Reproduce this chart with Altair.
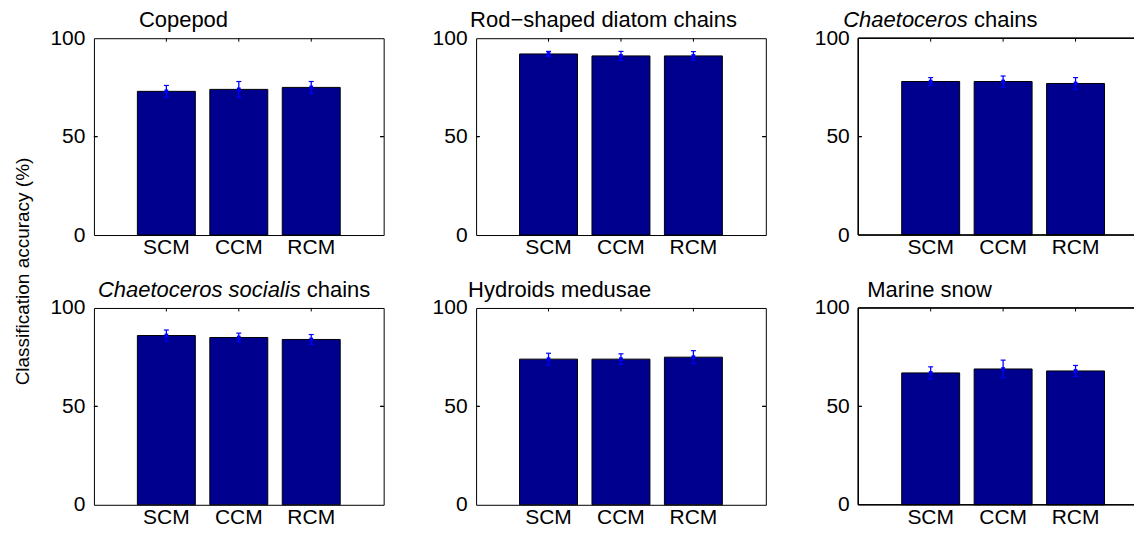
import altair as alt
import pandas as pd

# ---------------- data ----------------
categories = ["SCM", "CCM", "RCM"]
italic_parts = ["", "", "Chaetoceros", "Chaetoceros socialis", "", ""]
normal_parts = ["Copepod", "Rod\u2212shaped diatom chains", "chains", "chains",
                "Hydroids medusae", "Marine snow"]

copepod = [73, 74, 75]
copepod_err = [3.0, 4.0, 3.0]
rod = [92, 91, 91]
rod_err = [1.3, 2.3, 2.2]
chaet = [78, 78, 77]
chaet_err = [2.0, 2.8, 3.0]
socialis = [86, 85, 84]
socialis_err = [2.8, 2.2, 2.5]
hydroids = [74, 74, 75]
hydroids_err = [3.0, 2.7, 3.3]
snow = [67, 69, 68]
snow_err = [3.1, 4.5, 2.8]

y_ticks = [0, 50, 100]
y_title = "Classification accuracy (%)"

values = [copepod, rod, chaet, socialis, hydroids, snow]
errors = [copepod_err, rod_err, chaet_err, socialis_err, hydroids_err, snow_err]

# ---------------- layout / style ----------------
FONT = "Liberation Sans"
W, H = 290, 197
W_LAST = 276            # right column is cut by the window edge
TICK_FS = 21
TITLE_FS = 22
TITLE_DX = [45, -6, -15, 4, -8, 9]
TITLE_DY = -11
BAR_COLOR = "#00008F"
ERR_COLOR = "#0000FF"
INTICK = 3.5
P_INNER, P_OUTER = 0.2, 0.6

ARIAL_W = {'C': 722, 'h': 556, 'a': 556, 'e': 556, 't': 278, 'o': 556, 'c': 500,
           'r': 333, 's': 500, 'i': 222, 'l': 222, 'n': 556, ' ': 278}


def text_width(s, size):
    return sum(ARIAL_W.get(c, 556) for c in s) * size / 1000.0


def panel(i):
    last_col = (i % 3 == 2)
    w = W_LAST if last_col else W
    vals = values[i]
    errs = errors[i]
    df = pd.DataFrame({
        "cat": categories,
        "v": vals,
        "lo": [v - e for v, e in zip(vals, errs)],
        "hi": [v + e for v, e in zip(vals, errs)],
    })
    n = len(categories)
    step = W / (n - P_INNER + 2 * P_OUTER)
    if last_col:
        po = (w / step - (n - P_INNER)) / 2.0
        left_space = step * P_OUTER
        al = left_space / (w - step * (n - P_INNER))
        xscale = alt.Scale(domain=categories, paddingInner=P_INNER, paddingOuter=po,
                           align=al)
    else:
        xscale = alt.Scale(domain=categories, paddingInner=P_INNER, paddingOuter=P_OUTER)
    x = alt.X("cat:N", sort=categories, scale=xscale,
              axis=alt.Axis(title=None, labelAngle=0, ticks=False, domain=False,
                            labelFontSize=TICK_FS, labelPadding=1.5,
                            labelColor="black", labelFont=FONT))
    yscale = alt.Scale(domain=[0, 100], nice=False, zero=True)
    y = alt.Y("v:Q", scale=yscale,
              axis=alt.Axis(title=None, values=y_ticks, ticks=False, domain=False,
                            labelFontSize=TICK_FS, labelPadding=9,
                            labelColor="black", labelFont=FONT, grid=False))
    base = alt.Chart(df)
    bars = base.mark_bar(color=BAR_COLOR, stroke="black", strokeWidth=1).encode(x=x, y=y)
    xs = alt.X("cat:N", sort=categories)
    err = base.mark_rule(color=ERR_COLOR, strokeWidth=1.3).encode(
        x=xs, y=alt.Y("lo:Q"), y2="hi:Q")
    cap_lo = base.mark_tick(color=ERR_COLOR, size=5, thickness=1.2, opacity=1).encode(
        x=xs, y=alt.Y("lo:Q"))
    cap_hi = base.mark_tick(color=ERR_COLOR, size=5, thickness=1.2, opacity=1).encode(
        x=xs, y=alt.Y("hi:Q"))
    dots = base.mark_point(filled=True, color=ERR_COLOR, size=14, shape="square",
                           opacity=1).encode(x=xs, y=alt.Y("v:Q"))
    top_ticks = base.mark_rule(color="black", strokeWidth=1).encode(
        x=xs, y=alt.value(0), y2=alt.value(INTICK))
    left_tick = base.mark_rule(color="black", strokeWidth=1).encode(
        y=alt.datum(50), x=alt.value(0), x2=alt.value(INTICK))

    layers = [bars, err, cap_lo, cap_hi, dots, top_ticks, left_tick]
    if last_col:
        # frame drawn by hand: top, left and bottom (right edge is outside the window)
        layers.append(base.mark_rule(color="black", strokeWidth=1).encode(
            y=alt.datum(100), x=alt.value(0), x2=alt.value(w)))
        layers.append(base.mark_rule(color="black", strokeWidth=1).encode(
            y=alt.datum(0), x=alt.value(0), x2=alt.value(w)))
        layers.append(base.mark_rule(color="black", strokeWidth=1).encode(
            x=alt.value(0), y=alt.datum(0), y2=alt.datum(100)))
    else:
        layers.append(base.mark_rule(color="black", strokeWidth=1).encode(
            y=alt.datum(50), x=alt.value(w - INTICK), x2=alt.value(w)))

    # title (mixed italic / upright)
    tx = TITLE_DX[i]
    it = italic_parts[i]
    nm = normal_parts[i]
    if it:
        layers.append(
            alt.Chart(pd.DataFrame({"t": [it]})).mark_text(
                font=FONT, fontSize=TITLE_FS, fontStyle="italic", align="left",
                baseline="alphabetic", color="black").encode(
                x=alt.value(tx), y=alt.value(TITLE_DY), text="t:N"))
        tx += text_width(it + " ", TITLE_FS)
    layers.append(
        alt.Chart(pd.DataFrame({"t": [nm]})).mark_text(
            font=FONT, fontSize=TITLE_FS, align="left", baseline="alphabetic",
            color="black").encode(x=alt.value(tx), y=alt.value(TITLE_DY), text="t:N"))

    if i == 0:
        layers.append(
            alt.Chart(pd.DataFrame({"t": [y_title]})).mark_text(
                font=FONT, fontSize=19, angle=270, align="center", baseline="top",
                color="black").encode(
                x=alt.value(-80), y=alt.value(233.5), text="t:N"))

    lc = alt.layer(*layers).properties(width=w, height=H)
    if last_col:
        lc = lc.properties(view=alt.ViewBackground(stroke="transparent"))
    return lc


panels = [panel(i) for i in range(6)]

chart = alt.concat(*panels, columns=3, spacing={"row": 73, "column": 92.5},
                   bounds="flush").properties(
    padding={"left": 5, "top": 0, "right": 0, "bottom": 0}
).configure_view(stroke="black", strokeWidth=1).configure_axis(grid=False)

chart.save("out.html", embed_options={"renderer": "svg", "actions": False})
